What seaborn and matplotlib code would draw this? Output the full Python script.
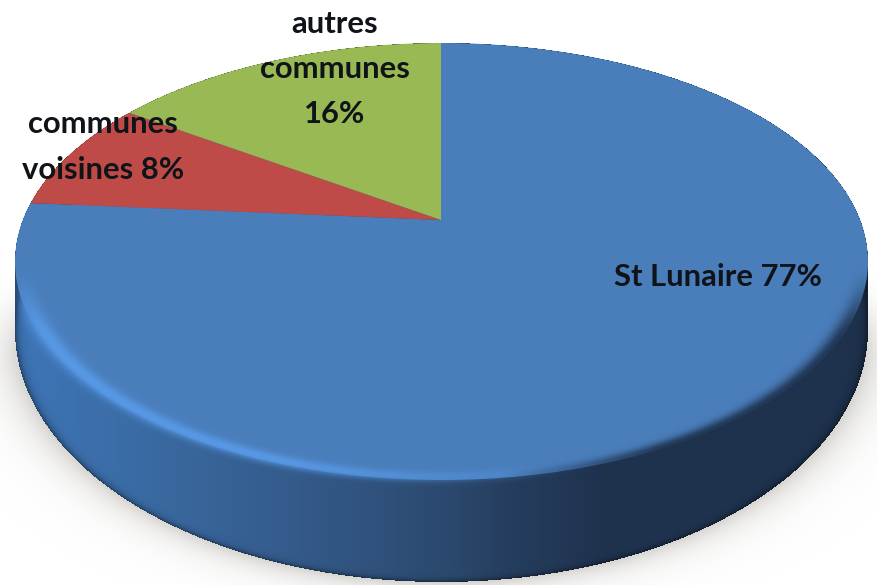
import numpy as np
import matplotlib
matplotlib.use("Agg")
import matplotlib.pyplot as plt
from matplotlib.patches import Ellipse
import seaborn as sns

# ---- data ----
categories = ["St Lunaire", "communes voisines", "autres communes"]
shares = [77, 8, 16]
slice_colors = ["#4A7EBB", "#BE4B48", "#98B954"]
label_lines = ["St Lunaire 77%", "communes\nvoisines 8%", "autres\ncommunes\n16%"]
label_px = [(718, 277), (103, 147), (335, 69)]

# ---- layout (pixels of the 878x585 picture) ----
W, H = 878, 585
APEX = (441, 220)
UX, UY = 426.5, 226.0
TOP = dict(cx=441.5, cy=261.5, a=426.5, b=218.5)
BOT = dict(cx=441.5, cy=330.0, a=426.5, b=252.0)

sns.set_theme(style="white")
plt.rcParams["font.family"] = ["Lato", "DejaVu Sans"]

def dx(x): return (x - APEX[0]) / UX
def dy(y): return (APEX[1] - y) / UY

fig = plt.figure(figsize=(W / 100, H / 100), dpi=100, facecolor="white")
ax = fig.add_axes([0, 0, 1, 1])
extent = (dx(0), dx(W), dy(H), dy(0))

yy, xx = np.mgrid[0:H, 0:W] + 0.5
def smooth(v, a, b):
    t = np.clip((v - a) / (b - a), 0, 1)
    return t * t * (3 - 2 * t)

dtop = np.hypot((xx - TOP["cx"]) / TOP["a"], (yy - TOP["cy"]) / TOP["b"])
dbot = np.hypot((xx - BOT["cx"]) / BOT["a"], (yy - BOT["cy"]) / BOT["b"])
s_top = (1 - dtop) * 240      # approx. pixels inside the top edge
s_bot = (1 - dbot) * 270      # approx. pixels inside the bottom edge

# soft shadow under the disc
shadow = np.zeros((H, W, 4))
shadow[..., :3] = np.array([0.78, 0.77, 0.75])
shadow[..., 3] = 0.72 * np.exp(-np.clip(-s_bot, 0, None) / 13.0) * smooth(yy, 270, 370)
ax.imshow(shadow, extent=extent, aspect="auto", zorder=1, interpolation="bilinear")

# body of the disc, shaded from left to right
stops_x = [15, 150, 300, 440, 510, 600, 868]
stops_c = np.array([[62, 118, 184], [58, 106, 162], [52, 90, 138],
                    [44, 74, 112], [37, 62, 94], [31, 51, 79], [30, 50, 78]], float) / 255
body = np.zeros((H, W, 4))
for i in range(3):
    body[..., i] = np.interp(xx, stops_x, stops_c[:, i])
edge = np.exp(-np.clip(s_bot, 0, None) / 2.5) * 0.45
body[..., :3] *= (1 - edge)[..., None]
inside = (dbot <= 1) | ((yy >= TOP["cy"]) & (yy <= BOT["cy"]) & (np.abs(xx - TOP["cx"]) <= TOP["a"])) | (dtop <= 1)
body[..., 3] = inside
ax.imshow(body, extent=extent, aspect="auto", zorder=2, interpolation="bilinear")

# the slices, cut by the top face
wedges, _ = ax.pie(shares, colors=slice_colors, startangle=90, counterclock=False,
                   radius=2.5, wedgeprops=dict(linewidth=0, zorder=3))
face = Ellipse((dx(TOP["cx"]), dy(TOP["cy"])), 2 * TOP["a"] / UX, 2 * TOP["b"] / UY,
               transform=ax.transData, facecolor="none", edgecolor="none")
ax.add_patch(face)
for w in wedges:
    w.set_clip_on(True)
    w.set_clip_path(face)

# bevel: bright on the left, dark on the right of the front rim
front = smooth(yy, 262, 340)
glow = np.exp(-((s_top - 3.5) / 6.0) ** 2) * front
bright = np.clip((600 - xx) / 330, 0, 1) * glow
dark = np.clip((xx - 500) / 160, 0, 1) * np.exp(-((s_top - 1.0) / 6.0) ** 2) * front
rim = np.zeros((H, W, 4))
alpha = np.clip(bright * 0.95 + dark * 0.9, 0, 1)
mix = bright / np.maximum(bright + dark, 1e-6)
hi, lo = np.array([88, 155, 232]) / 255, np.array([30, 50, 78]) / 255
rim[..., :3] = mix[..., None] * hi + (1 - mix[..., None]) * lo
rim[..., 3] = alpha * inside
ax.imshow(rim, extent=extent, aspect="auto", zorder=4, interpolation="bilinear")

# labels
for text, (px, py) in zip(label_lines, label_px):
    ax.text(dx(px), dy(py), text, ha="center", va="center", fontsize=22.3,
            fontweight="bold", color="#101418", linespacing=1.74, zorder=5)

ax.set_aspect("auto")
ax.set_xlim(dx(0), dx(W))
ax.set_ylim(dy(H), dy(0))
ax.axis("off")
fig.savefig("out.png", dpi=100, facecolor="white")
